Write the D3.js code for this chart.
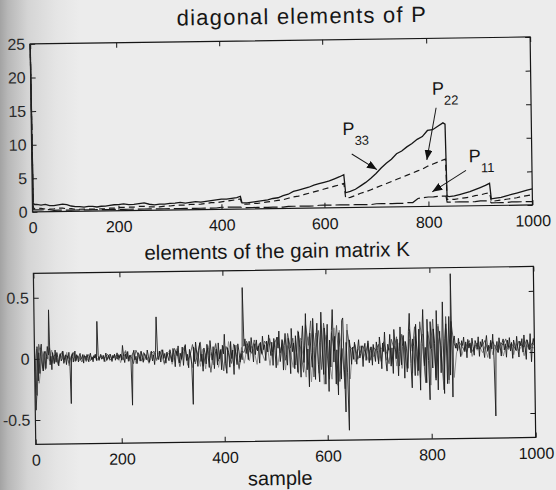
<!DOCTYPE html>
<html>
<head>
<meta charset="utf-8">
<script src="https://cdn.jsdelivr.net/npm/d3@7"></script>
<style>
  html, body { margin: 0; padding: 0; background: #ececec; }
  svg { display: block; }
  text { font-family: "Liberation Sans", Arial, Helvetica, sans-serif; }
</style>
</head>
<body>
<svg id="fig" width="556" height="490"></svg>
<script>
// ---------- diagonal elements of the covariance matrix P ----------
const sampleP = [0, 2, 5,
  10, 20, 30, 40, 50, 60, 70, 80, 90, 100,
  110, 120, 130, 140, 150, 160, 170, 180, 190, 200,
  210, 220, 230, 240, 250, 260, 270, 280, 290, 300,
  310, 320, 330, 340, 350, 360, 370, 380, 390, 400,
  410, 420, 430, 437, 440,
  450, 460, 470, 480, 490, 500, 510, 520, 530, 540,
  550, 560, 570, 580, 590, 600, 610, 620, 630, 638, 641,
  650, 660, 670, 680, 690, 700, 710, 720, 730, 740,
  750, 760, 770, 780, 790, 800, 810, 820, 830, 834, 836,
  840, 850, 860, 870, 880, 890, 900, 910, 918, 921,
  930, 940, 950, 960, 970, 980, 990, 1000];

const p33 = [25, 1.3, 1.1,
  1.1, 1.0, 1.1, 0.9, 0.9, 1.0, 1.1, 1.0, 0.8, 0.7,
  0.7, 0.6, 0.7, 0.7, 0.6, 0.7, 0.7, 0.8, 0.9, 0.9,
  1.0, 0.9, 0.9, 1.0, 1.1, 0.9, 0.8, 0.9, 0.9, 1.0,
  1.0, 1.1, 1.0, 1.1, 1.2, 1.1, 1.2, 1.3, 1.4, 1.5,
  1.5, 1.6, 1.7, 1.9, 0.9,
  0.9, 1.0, 1.1, 1.2, 1.3, 1.5, 1.6, 1.9, 2.1, 2.5,
  2.7, 2.9, 3.1, 3.4, 3.6, 3.8, 4.0, 4.3, 4.6, 4.9, 2.2,
  2.4, 2.7, 3.2, 3.7, 4.3, 5.0, 5.8, 6.5, 7.1, 7.9,
  8.3, 8.9, 9.4, 10.0, 10.4, 11.3, 11.4, 11.9, 12.4, 12.2, 1.5,
  1.4, 1.5, 1.7, 1.9, 2.1, 2.4, 2.7, 3.0, 3.3, 1.0,
  1.1, 1.2, 1.4, 1.6, 1.8, 2.0, 2.2, 2.4];

const p22 = [25, 0.6, 0.5,
  0.5, 0.5, 0.4, 0.4, 0.4, 0.5, 0.5, 0.4, 0.4, 0.3,
  0.3, 0.3, 0.3, 0.3, 0.3, 0.3, 0.3, 0.4, 0.4, 0.5,
  0.5, 0.5, 0.5, 0.6, 0.6, 0.5, 0.5, 0.5, 0.6, 0.6,
  0.7, 0.7, 0.7, 0.8, 0.8, 0.8, 0.9, 1.0, 1.0, 1.1,
  1.2, 1.3, 1.4, 1.5, 0.7,
  0.7, 0.8, 0.8, 0.9, 1.0, 1.1, 1.2, 1.3, 1.5, 1.7,
  1.8, 2.0, 2.2, 2.4, 2.6, 2.8, 3.0, 3.2, 3.4, 3.6, 1.4,
  1.5, 1.8, 2.1, 2.3, 2.6, 2.9, 3.2, 3.5, 3.8, 4.1,
  4.4, 4.7, 5.0, 5.3, 5.6, 6.0, 6.3, 6.6, 6.9, 7.0, 1.0,
  1.0, 1.0, 1.1, 1.2, 1.3, 1.5, 1.6, 1.8, 1.9, 0.6,
  0.7, 0.8, 0.9, 1.0, 1.1, 1.3, 1.4, 1.5];

const p11 = [25, 0.4, 0.3,
  0.3, 0.3, 0.3, 0.3, 0.2, 0.2, 0.2, 0.2, 0.2, 0.2,
  0.2, 0.2, 0.2, 0.2, 0.2, 0.2, 0.2, 0.2, 0.2, 0.2,
  0.2, 0.2, 0.2, 0.2, 0.2, 0.2, 0.2, 0.2, 0.2, 0.2,
  0.2, 0.2, 0.2, 0.2, 0.2, 0.2, 0.2, 0.2, 0.2, 0.3,
  0.3, 0.3, 0.3, 0.3, 0.2,
  0.2, 0.2, 0.2, 0.2, 0.2, 0.2, 0.2, 0.2, 0.3, 0.3,
  0.3, 0.3, 0.3, 0.3, 0.4, 0.4, 0.4, 0.4, 0.4, 0.4, 0.4,
  0.4, 0.4, 0.4, 0.4, 0.4, 0.5, 0.5, 0.5, 0.5, 0.5,
  0.5, 0.6, 0.6, 1.2, 1.3, 1.4, 1.4, 1.5, 1.5, 1.5, 0.6,
  0.6, 0.6, 0.6, 0.6, 0.6, 0.6, 0.7, 0.7, 0.7, 0.4,
  0.4, 0.4, 0.4, 0.5, 0.5, 0.5, 0.5, 0.5];

// ---------- elements of the gain matrix K ----------
// k1: one value every 2 samples, 50 samples per row
const k1Step = 2;
const k1 = [
  0.15, -0.42, -0.30, 0.10, -0.18, 0.05, -0.12, 0.08, 0.12, -0.06, -0.10, 0.04, 0.06, -0.08, 0.02, 0.10, 0.03, 0.40, -0.05, 0.02, -0.09, 0.05, 0.01, -0.04, 0.07,
  -0.03, 0.05, 0.01, -0.06, 0.02, 0.04, -0.02, 0.00, 0.06, -0.04, 0.01, 0.03, -0.05, 0.02, 0.00, 0.05, -0.03, -0.37, 0.02, 0.04, -0.03, 0.01, 0.06, -0.02, 0.03,
  0.01, -0.03, 0.02, 0.04, -0.01, 0.00, 0.03, -0.04, 0.02, 0.01, -0.02, 0.03, 0.00, -0.03, 0.02, 0.04, -0.01, 0.01, -0.03, 0.02, 0.00, 0.03, -0.02, 0.30, 0.02,
  -0.02, 0.01, 0.03, -0.01, 0.00, 0.02, -0.03, 0.01, 0.04, -0.02, 0.00, 0.02, -0.01, 0.03, 0.01, -0.03, 0.02, 0.00, 0.03, -0.02, 0.01, 0.04, -0.01, 0.02, 0.00,
  0.03, -0.02, 0.10, 0.01, -0.04, 0.03, -0.01, 0.05, -0.03, 0.02, 0.00, -0.39, 0.03, 0.06, -0.02, 0.01, -0.05, 0.04, 0.02, -0.03, 0.05, 0.00, -0.04, 0.03, 0.01,
  -0.02, 0.06, 0.01, -0.04, 0.03, 0.05, -0.03, 0.02, -0.06, 0.04, 0.33, 0.01, -0.02, 0.05, -0.04, 0.02, 0.06, -0.01, 0.03, -0.05, 0.04, 0.00, -0.03, 0.06, 0.02,
  -0.04, 0.07, 0.02, -0.08, 0.05, 0.01, 0.09, -0.05, 0.03, -0.02, 0.08, -0.07, 0.04, 0.10, -0.03, 0.02, -0.09, 0.06, 0.01, -0.06, -0.39, 0.08, -0.04, 0.12, 0.03,
  -0.08, 0.05, 0.11, -0.04, 0.02, -0.12, 0.07, 0.03, -0.06, 0.10, 0.01, -0.09, 0.13, 0.04, -0.03, 0.08, -0.10, 0.02, 0.06, -0.07, 0.11, -0.02, 0.05, -0.11, 0.09,
  0.02, 0.18, -0.06, -0.14, 0.07, 0.03, -0.09, 0.12, -0.02, 0.05, -0.15, 0.09, 0.01, -0.07, 0.10, 0.04, -0.05, 0.02, -0.03, 0.56, 0.08, 0.14, 0.02, 0.10, -0.03,
  0.12, 0.03, 0.15, 0.06, -0.05, 0.10, 0.01, 0.13, 0.04, 0.08, -0.06, 0.11, 0.02, 0.16, 0.05, 0.09, -0.04, 0.12, 0.03, 0.17, 0.07, 0.00, 0.11, -0.08, 0.14,
  0.04, -0.10, 0.15, 0.06, 0.20, -0.05, 0.02, 0.13, -0.12, 0.08, 0.18, 0.01, -0.08, 0.14, 0.05, -0.15, 0.22, 0.03, 0.10, -0.11, 0.16, 0.02, -0.14, 0.19, 0.06,
  -0.18, 0.12, 0.24, -0.06, 0.08, 0.34, -0.12, 0.05, -0.26, 0.18, 0.02, -0.10, 0.30, 0.07, -0.20, 0.14, 0.26, -0.08, -0.22, 0.10, 0.35, 0.04, -0.16, 0.22, -0.24,
  0.08, 0.25, -0.30, 0.12, -0.10, 0.20, 0.37, -0.06, 0.15, -0.24, 0.04, -0.33, 0.18, 0.06, -0.20, 0.28, 0.30, -0.12, -0.47, 0.10, -0.15, -0.62, 0.12, 0.05, -0.08,
  0.06, -0.04, 0.10, 0.02, -0.08, 0.05, 0.12, -0.03, 0.01, 0.07, -0.10, 0.04, 0.09, -0.05, 0.02, 0.11, -0.07, 0.03, 0.06, -0.09, 0.08, 0.00, -0.06, 0.10, 0.03,
  -0.08, 0.14, 0.04, -0.12, 0.09, 0.02, 0.18, -0.06, -0.14, 0.08, 0.03, 0.16, -0.10, 0.05, -0.16, 0.20, 0.07, -0.04, 0.12, -0.18, 0.02, 0.22, -0.09, 0.06, 0.15,
  -0.20, 0.10, 0.04, -0.12, 0.18, 0.33, -0.08, -0.28, 0.12, 0.06, -0.18, 0.24, 0.02, -0.14, 0.20, -0.30, 0.08, 0.16, 0.36, -0.10, 0.05, -0.24, 0.28, -0.06, -0.38,
  0.26, 0.04, -0.12, 0.20, 0.08, -0.22, 0.35, -0.30, 0.10, 0.18, -0.16, 0.06, 0.42, -0.33, 0.12, 0.24, -0.25, 0.05, 0.30, -0.18, 0.65, -0.36, 0.10, 0.14, 0.04,
  0.08, 0.02, 0.12, 0.05, -0.03, 0.10, 0.06, 0.13, 0.01, 0.09, -0.04, 0.11, 0.04, 0.08, 0.00, 0.12, 0.05, -0.02, 0.10, 0.07, 0.03, 0.13, -0.03, 0.09, 0.05,
  0.11, 0.02, -0.04, 0.08, 0.14, 0.01, 0.06, -0.05, 0.10, 0.03, 0.15, -0.06, -0.52, 0.04, 0.09, 0.00, 0.12, 0.05, -0.03, 0.08, 0.11, 0.02, 0.07, -0.04, 0.10,
  0.04, 0.12, 0.01, 0.08, -0.05, 0.10, 0.06, 0.02, 0.13, 0.03, -0.04, 0.09, 0.05, 0.11, 0.00, 0.14, 0.04, -0.06, 0.10, 0.07, 0.02, 0.15, -0.08, 0.06, 0.11,
  0.05];

// k2, k3: one value every 5 samples, 50 samples per row
const kStep = 5;
const k2 = [
  0.05, -0.30, 0.12, 0.02, -0.10, 0.06, 0.00, 0.09, -0.04, 0.02,
  0.04, -0.05, 0.02, 0.06, -0.01, 0.03, -0.04, 0.01, 0.05, -0.02,
  0.02, 0.00, -0.03, 0.02, 0.01, 0.03, -0.02, 0.00, 0.02, -0.01,
  0.00, 0.02, -0.01, 0.01, 0.03, -0.02, 0.00, 0.02, 0.01, -0.02,
  0.03, -0.02, 0.05, 0.00, 0.02, -0.05, 0.06, 0.01, -0.03, 0.04,
  0.01, -0.04, 0.03, 0.05, -0.02, 0.01, 0.06, -0.05, 0.02, 0.03,
  -0.04, 0.07, 0.02, -0.08, 0.04, 0.09, -0.03, 0.01, 0.10, -0.06,
  0.03, 0.12, -0.08, 0.01, 0.07, -0.13, 0.02, 0.10, -0.04, 0.06,
  -0.12, 0.08, 0.02, -0.06, 0.10, 0.01, -0.10, 0.04, 0.03, 0.12,
  0.06, 0.02, 0.13, 0.05, 0.10, 0.01, 0.12, 0.08, 0.14, 0.03,
  0.11, 0.15, 0.02, 0.12, -0.04, 0.18, 0.06, 0.14, -0.08, 0.20,
  0.05, -0.14, 0.25, 0.08, 0.28, -0.18, 0.06, 0.20, -0.12, 0.26,
  0.08, -0.20, 0.18, 0.03, 0.24, -0.22, 0.05, -0.28, 0.20, 0.06,
  0.04, 0.08, -0.04, 0.02, 0.07, 0.01, 0.09, -0.05, 0.06, 0.03,
  0.08, -0.06, 0.10, 0.02, -0.08, 0.12, 0.04, 0.14, -0.10, 0.16,
  0.05, -0.15, 0.20, 0.02, 0.22, -0.18, 0.26, 0.06, -0.24, 0.18,
  0.04, 0.28, -0.20, 0.22, 0.06, -0.30, 0.30, -0.22, 0.26, 0.08,
  0.04, 0.09, 0.06, 0.02, 0.07, 0.10, 0.01, 0.05, 0.08, 0.03,
  0.06, 0.10, 0.02, 0.05, 0.09, 0.04, 0.00, 0.08, 0.06, 0.11,
  0.03, 0.07, 0.05, 0.01, 0.09, 0.06, 0.04, 0.10, 0.02, 0.07,
  0.06];

const k3 = [
  -0.10, 0.08, -0.20, -0.05, 0.06, -0.09, 0.03, -0.02, 0.07, -0.04,
  0.01, -0.05, 0.04, 0.00, -0.03, 0.05, -0.06, 0.02, 0.00, -0.03,
  0.02, -0.02, 0.01, 0.03, -0.03, 0.00, 0.02, -0.01, 0.03, -0.02,
  -0.01, 0.01, 0.02, -0.03, 0.00, 0.03, -0.02, 0.01, -0.01, 0.03,
  -0.04, 0.02, 0.06, -0.03, 0.01, 0.04, -0.05, 0.00, 0.05, -0.03,
  0.02, -0.05, 0.00, 0.04, -0.03, 0.05, 0.01, -0.06, 0.03, 0.05,
  -0.06, 0.02, 0.07, -0.05, 0.00, 0.08, -0.07, 0.04, -0.09, 0.07,
  0.02, -0.08, 0.06, -0.10, 0.09, 0.01, -0.07, 0.11, -0.09, 0.02,
  0.08, -0.10, 0.12, 0.01, -0.08, 0.09, -0.11, 0.07, -0.06, 0.05,
  -0.04, 0.08, 0.03, -0.07, 0.10, 0.02, -0.04, 0.09, -0.08, 0.06,
  0.12, -0.08, 0.04, 0.10, -0.12, 0.08, 0.02, -0.10, 0.12, -0.15,
  0.14, -0.03, -0.18, 0.15, -0.22, 0.04, 0.18, -0.15, 0.20, -0.24,
  0.16, -0.05, -0.20, 0.22, -0.25, 0.20, 0.02, -0.18, 0.25, -0.20,
  0.05, -0.06, 0.03, 0.07, -0.04, 0.02, -0.05, 0.06, -0.02, 0.04,
  -0.06, 0.04, 0.07, -0.05, 0.05, -0.08, 0.06, -0.10, 0.09, -0.12,
  0.10, -0.15, 0.12, -0.16, 0.14, 0.02, -0.20, 0.16, -0.22, 0.18,
  -0.26, 0.20, -0.18, 0.24, 0.04, -0.22, 0.20, -0.25, 0.18, -0.20,
  0.00, 0.06, -0.02, 0.05, 0.01, 0.07, -0.03, 0.06, 0.02, 0.05,
  0.00, 0.05, -0.04, 0.08, -0.02, 0.06, 0.01, 0.07, -0.03, 0.05,
  0.02, 0.06, -0.02, 0.07, 0.01, 0.05, -0.03, 0.06, 0.02, 0.04,
  0.03];

// ---------- ticks and labels ----------
const xTicks = [0, 200, 400, 600, 800, 1000];
const pTicks = [0, 5, 10, 15, 20, 25];
const kTicks = [-0.5, 0, 0.5];
const titleP = "diagonal elements of P";
const titleK = "elements of the gain matrix K";
const xLabel = "sample";

// ---------- drawing ----------
const W = 556, H = 490;
const svg = d3.select("#fig");
svg.append("rect").attr("width", W).attr("height", H).attr("fill", "#ececec");

const defs = svg.append("defs");
const shade = defs.append("linearGradient").attr("id", "shade")
  .attr("x1", 0).attr("x2", 1).attr("y1", 0).attr("y2", 0);
[[0, 0.5], [0.1, 0.36], [0.35, 0.16], [0.7, 0.05], [1, 0]].forEach(([o, a]) =>
  shade.append("stop").attr("offset", o).attr("stop-color", "#5a5a5a").attr("stop-opacity", a));

defs.append("marker").attr("id", "head")
  .attr("viewBox", "0 0 10 8").attr("refX", 10).attr("refY", 4)
  .attr("markerWidth", 10).attr("markerHeight", 8)
  .attr("markerUnits", "userSpaceOnUse").attr("orient", "auto")
  .append("path").attr("d", "M0,0 L10,4 L0,8 Z").attr("fill", "#111");

const page = svg.append("g").attr("transform", "rotate(-0.8 278 245)");

const xRange = [33, 119, 222, 325, 429, 533];
const x = d3.scaleLinear().domain(xTicks).range(xRange);
const left = xRange[0], right = xRange[xRange.length - 1];

const ink = "#161616";

function frame(g, y, yTicks, yFmt) {
  const [yb, yt] = y.range();
  const style = a => a.attr("font-size", 16)
    .attr("font-family", "'Liberation Sans', Arial, sans-serif")
    .style("color", ink)
    .call(s => s.select(".domain").remove())
    .call(s => s.selectAll("line").attr("stroke-width", 1));

  g.append("g").attr("transform", `translate(0,${yb})`)
    .call(d3.axisBottom(x).tickValues(xTicks).tickSizeInner(-5).tickSizeOuter(0)
      .tickPadding(10).tickFormat(d3.format("d"))).call(style);
  g.append("g").attr("transform", `translate(0,${yt})`)
    .call(d3.axisTop(x).tickValues(xTicks).tickSizeInner(-5).tickSizeOuter(0)
      .tickFormat("")).call(style);
  g.append("g").attr("transform", `translate(${left},0)`)
    .call(d3.axisLeft(y).tickValues(yTicks).tickSizeInner(-5).tickSizeOuter(0)
      .tickPadding(5).tickFormat(yFmt)).call(style);
  g.append("g").attr("transform", `translate(${right},0)`)
    .call(d3.axisRight(y).tickValues(yTicks).tickSizeInner(-5).tickSizeOuter(0)
      .tickFormat("")).call(style);

  g.append("rect").attr("x", left).attr("y", yt)
    .attr("width", right - left).attr("height", yb - yt)
    .attr("fill", "none").attr("stroke", ink).attr("stroke-width", 1.2);
}

// ----- upper panel: P11, P22, P33 -----
const yP = d3.scaleLinear().domain([0, 25]).range([208.5, 40.5]);
const gP = page.append("g");
frame(gP, yP, pTicks, d3.format("d"));

const lineP = vals => d3.line()
  .x((d, i) => x(sampleP[i]))
  .y(d => yP(d))(vals);

gP.append("path").attr("d", lineP(p11)).attr("fill", "none")
  .attr("stroke", ink).attr("stroke-width", 1.2).attr("stroke-dasharray", "14,4");
gP.append("path").attr("d", lineP(p22)).attr("fill", "none")
  .attr("stroke", ink).attr("stroke-width", 1.2).attr("stroke-dasharray", "6,4");
gP.append("path").attr("d", lineP(p33)).attr("fill", "none")
  .attr("stroke", ink).attr("stroke-width", 1.3);

gP.append("text").attr("x", 305).attr("y", 24)
  .attr("text-anchor", "middle").attr("font-size", 22)
  .attr("letter-spacing", 1.2).attr("fill", ink).text(titleP);

function pLabel(px, py, sub) {
  const t = gP.append("text").attr("x", px).attr("y", py)
    .attr("font-size", 18).attr("fill", ink);
  t.append("tspan").text("P");
  t.append("tspan").attr("dy", 10).attr("font-size", 13).text(sub);
}
function arrow(x1, y1, x2, y2) {
  gP.append("line").attr("x1", x1).attr("y1", y1).attr("x2", x2).attr("y2", y2)
    .attr("stroke", ink).attr("stroke-width", 1).attr("marker-end", "url(#head)");
}
pLabel(344, 136, "33");
arrow(353, 155, 378, 171);
pLabel(434, 97, "22");
arrow(438, 110, 428, 162);
pLabel(470, 165, "11");
arrow(467, 173, 433, 194);

// ----- lower panel: gain matrix K -----
const yK = d3.scaleLinear().domain([-0.7, 0.7]).range([441, 270]);
const gK = page.append("g");
defs.append("clipPath").attr("id", "kclip").append("rect")
  .attr("x", left).attr("y", 270).attr("width", right - left).attr("height", 171);

const lineK = step => d3.line().x((d, i) => x(i * step)).y(d => yK(d));
const kLayer = gK.append("g").attr("clip-path", "url(#kclip)");
[[k3, kStep, "#808080", 0.85], [k2, kStep, "#4a4a4a", 0.85], [k1, k1Step, "#1c1c1c", 0.9]]
  .forEach(([vals, step, col, sw]) =>
    kLayer.append("path").attr("d", lineK(step)(vals)).attr("fill", "none")
      .attr("stroke", col).attr("stroke-width", sw));

frame(gK, yK, kTicks, d => String(d));

gK.append("text").attr("x", 277).attr("y", 258)
  .attr("text-anchor", "middle").attr("font-size", 20.5).attr("fill", ink).text(titleK);
gK.append("text").attr("x", 277).attr("y", 485)
  .attr("text-anchor", "middle").attr("font-size", 20).attr("fill", ink).text(xLabel);

// shadow along the left edge of the sheet
svg.append("rect").attr("width", 80).attr("height", H).attr("fill", "url(#shade)");
</script>
</body>
</html>
